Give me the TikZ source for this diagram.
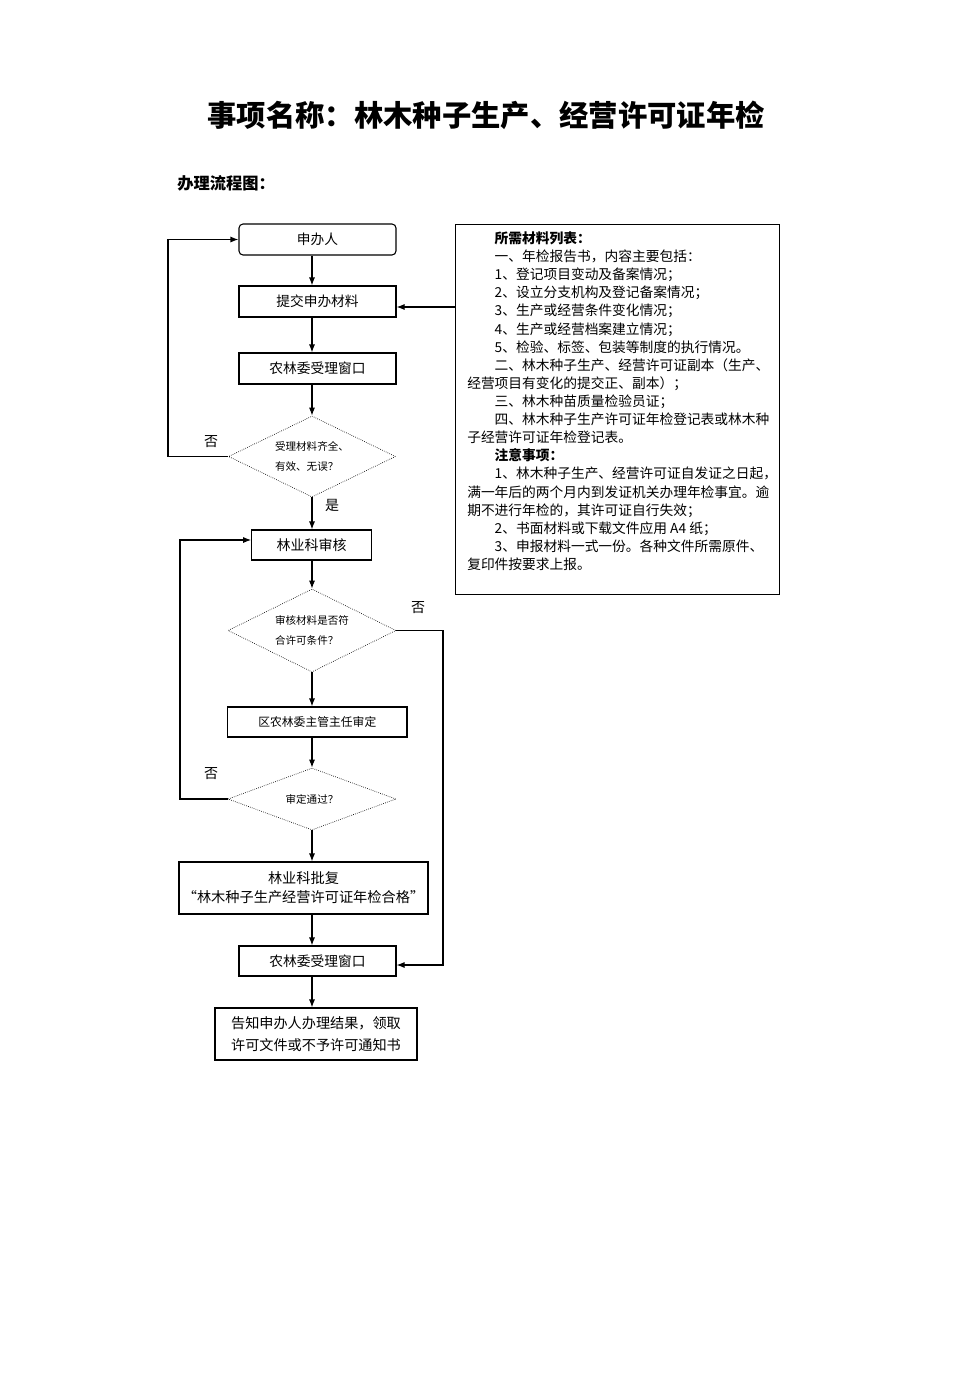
\documentclass[tikz,border=0pt]{standalone}
\usepackage{fontspec}
\setmainfont{Noto Sans CJK SC}
\usetikzlibrary{shapes.geometric,arrows.meta}
\newcommand\fs[2]{\fontsize{#1pt}{#2pt}\selectfont}
\begin{document}
\begin{tikzpicture}[x=0.75pt,y=-0.75pt,
  box/.style={draw, line width=0.8pt, inner sep=0pt, align=center, font=\fs{10.3}{13}},
  dia/.style={draw, diamond, densely dotted, line width=0.5pt, inner sep=0pt, aspect=2, align=left, font=\fs{7.9}{15.5}},
  arr/.style={line width=0.8pt, -{Latex[length=6pt,width=4.5pt]}},
  ln/.style={line width=0.8pt},
  lbl/.style={font=\fs{10.5}{12}, inner sep=0pt}]
\useasboundingbox (0,0) rectangle (971,1375);

% titles
\node[font=\fs{22}{26}\bfseries, inner sep=0pt] (title) at (486,115) {事项名称：林木种子生产、经营许可证年检};
\node[font=\fs{12.2}{14}\bfseries, inner sep=0pt, anchor=west] (sub) at (177,183) {办理流程图：};

% flow nodes
\node[box, rounded corners=3pt, minimum width=117.75pt, minimum height=23.25pt] (a) at (317.5,239.5) {申办人};
\node[box, minimum width=117.75pt, minimum height=23.25pt] (b) at (317.5,301.5) {提交申办材料};
\node[box, minimum width=117.75pt, minimum height=23.25pt] (c) at (317.5,368.5) {农林委受理窗口};
\node[dia, minimum width=125.25pt, minimum height=60.75pt] (d1) at (312,456.5) {受理材料齐全、\\有效、无误？};
\node[box, minimum width=90pt, minimum height=22.5pt, font=\fs{10.5}{13}] (e) at (311.7,545) {林业科审核};
\node[dia, minimum width=126pt, minimum height=62.25pt] (d2) at (312,630.5) {审核材料是否符\\合许可条件？};
\node[box, minimum width=134.5pt, minimum height=22.5pt, font=\fs{8.85}{11}] (f) at (317.3,722) {区农林委主管主任审定};
\node[dia, minimum width=126pt, minimum height=46.5pt] (d3) at (312,799) {审定通过？};
\node[box, minimum width=186.75pt, minimum height=39pt, font=\fs{10.65}{14.25}] (g) at (303.5,888) {林业科批复\\“林木种子生产经营许可证年检合格”};
\node[box, minimum width=117.75pt, minimum height=22.5pt] (h) at (317.5,961) {农林委受理窗口};
\node[box, minimum width=151.5pt, minimum height=39pt, font=\fs{10.6}{16.5}] (i) at (316,1034) {告知申办人办理结果，领取\\许可文件或不予许可通知书};

% materials box
\node[draw, line width=0.8pt, minimum width=243pt, minimum height=277.5pt, inner sep=0pt] (m) at (617.5,409.5) {};
\node[anchor=north west, inner sep=0pt, align=left, font=\fs{10.3}{13.58}] (mt) at (467,231.5) {%
\hspace*{2em}{\bfseries 所需材料列表：}\\
\hspace*{2em}一、年检报告书，内容主要包括：\\
\hspace*{2em}1、登记项目变动及备案情况；\\
\hspace*{2em}2、设立分支机构及登记备案情况；\\
\hspace*{2em}3、生产或经营条件变化情况；\\
\hspace*{2em}4、生产或经营档案建立情况；\\
\hspace*{2em}5、检验、标签、包装等制度的执行情况。\\
\hspace*{2em}二、林木种子生产、经营许可证副本（生产、\\
经营项目有变化的提交正、副本）；\\
\hspace*{2em}三、林木种苗质量检验员证；\\
\hspace*{2em}四、林木种子生产许可证年检登记表或林木种\\
子经营许可证年检登记表。\\
\hspace*{2em}{\bfseries 注意事项：}\\
\hspace*{2em}1、林木种子生产、经营许可证自发证之日起，\\
满一年后的两个月内到发证机关办理年检事宜。逾\\
期不进行年检的，其许可证自行失效；\\
\hspace*{2em}2、书面材料或下载文件应用 A4 纸；\\
\hspace*{2em}3、申报材料一式一份。各种文件所需原件、\\
复印件按要求上报。};

% helper coordinates for loop lines
\coordinate (L1) at (168,0);
\coordinate (L2) at (180,0);
\coordinate (R1) at (443,0);

% main vertical arrows
\draw[arr] (a.south -| d1) -- (b.north -| d1);
\draw[arr] (b.south -| d1) -- (c.north -| d1);
\draw[arr] (c.south -| d1) -- (d1.north);
\draw[arr] (d1.south) -- (e.north -| d1);
\draw[arr] (e.south -| d1) -- (d2.north);
\draw[arr] (d2.south) -- (f.north -| d1);
\draw[arr] (f.south -| d1) -- (d3.north);
\draw[arr] (d3.south) -- (g.north -| d1);
\draw[arr] (g.south -| d1) -- (h.north -| d1);
\draw[arr] (h.south -| d1) -- (i.north -| d1);

% loops
\draw[arr] (d1.west) -- (d1.west -| L1) |- (a.west);
\draw[arr] (d3.west) -- (d3.west -| L2) |- ([yshift=3.75pt]e.west);
\draw[arr] (d2.east) -- (d2.east -| R1) |- ([yshift=-3pt]h.east);
\draw[arr] (m.west |- 0,307) -- (b.east |- 0,307);

% labels
\node[lbl] (n1) at (211,442) {否};
\node[lbl] (y1) at (332,505) {是};
\node[lbl] (n2) at (418,608) {否};
\node[lbl] (n3) at (211,774) {否};
\end{tikzpicture}
\end{document}
